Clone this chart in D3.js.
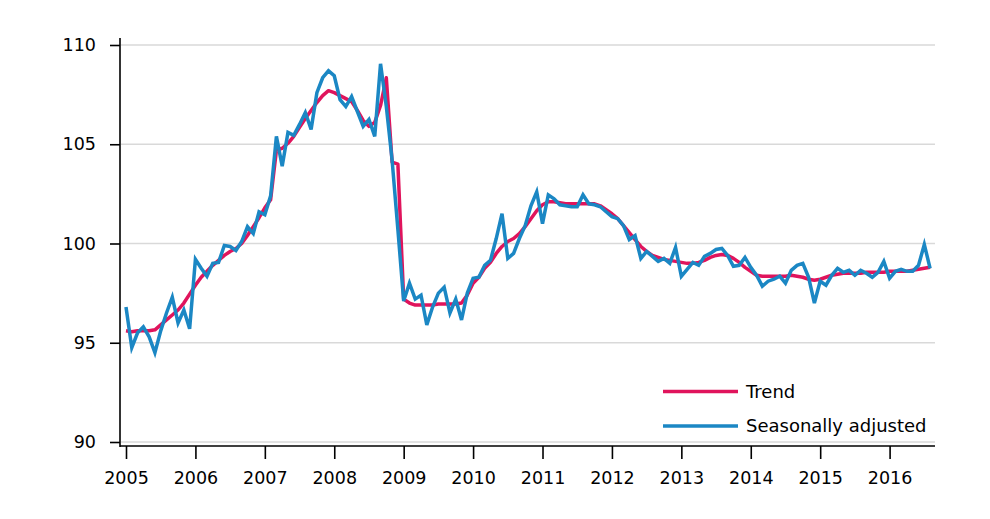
<!DOCTYPE html>
<html><head><meta charset="utf-8">
<script src="https://cdn.jsdelivr.net/npm/d3@7"></script>
<style>body{margin:0;background:#fff;}svg{display:block;}text{font-family:"DejaVu Sans",Verdana,sans-serif;}</style>
</head><body><svg id="c" width="990" height="519"></svg>
<script>
const startYear = 2005;
const yearTicks = [2005,2006,2007,2008,2009,2010,2011,2012,2013,2014,2015,2016];
const valueTicks = [90,95,100,105,110];
const seriesNames = ["Trend","Seasonally adjusted"];
const seasonallyAdjusted = [
96.8,94.75,95.5,95.8,95.3,94.5,95.6,96.5,97.3,96.0,96.65,95.7,
99.2,98.75,98.35,99.0,99.05,99.9,99.85,99.65,100.1,100.85,100.5,101.6,
101.45,102.4,105.4,103.9,105.6,105.45,106.0,106.6,105.75,107.6,108.35,108.7,
108.45,107.25,106.9,107.4,106.65,105.9,106.25,105.4,109.05,106.9,104.2,100.7,
97.1,98.0,97.2,97.4,95.9,96.8,97.5,97.8,96.5,97.2,96.15,97.5,
98.25,98.3,98.9,99.15,100.25,101.5,99.25,99.5,100.25,100.9,101.9,102.6,
101.0,102.45,102.25,101.95,101.9,101.85,101.85,102.45,102.0,101.95,101.85,101.6,
101.35,101.25,100.9,100.2,100.4,99.25,99.6,99.35,99.1,99.25,99.0,99.8,
98.35,98.7,99.05,98.9,99.35,99.5,99.7,99.75,99.4,98.85,98.9,99.3,
98.8,98.4,97.85,98.1,98.2,98.35,98.0,98.65,98.9,99.0,98.3,97.0,
98.1,97.9,98.4,98.75,98.55,98.65,98.4,98.65,98.5,98.3,98.55,99.1,
98.25,98.6,98.7,98.6,98.6,98.9,99.95,98.75
];
const trend = [
95.6,95.55,95.6,95.6,95.6,95.65,95.9,96.15,96.4,96.65,97.0,97.45,
97.9,98.3,98.6,98.9,99.15,99.4,99.6,99.75,100.0,100.4,100.85,101.3,
101.8,102.2,104.7,104.8,105.05,105.4,105.85,106.3,106.7,107.1,107.45,107.7,
107.6,107.45,107.3,107.15,106.7,106.2,105.9,106.1,106.95,108.35,104.1,104.0,
97.2,97.0,96.9,96.9,96.9,96.9,96.95,96.95,96.95,96.95,97.0,97.4,
98.0,98.3,98.75,99.05,99.5,99.85,100.1,100.25,100.5,100.85,101.25,101.65,
101.95,102.1,102.1,102.05,102.0,102.0,102.0,102.0,102.0,102.0,101.9,101.7,
101.5,101.25,100.9,100.55,100.2,99.85,99.6,99.4,99.3,99.2,99.15,99.1,
99.05,99.0,99.0,99.05,99.15,99.3,99.4,99.45,99.4,99.25,99.05,98.8,
98.6,98.4,98.35,98.35,98.35,98.35,98.35,98.4,98.35,98.3,98.2,98.15,
98.2,98.3,98.4,98.45,98.5,98.5,98.5,98.5,98.55,98.55,98.55,98.55,
98.6,98.6,98.6,98.6,98.65,98.7,98.75,98.8
];
const colors = ["#e0145c","#1b87c4"];

const svg = d3.select("#c");
const mLeft = 120, mRight = 935, mTop = 45, mBottom = 442, axisY = 446;
const x = d3.scaleLinear().domain([2005, 2016]).range([126, 889.6]);
const y = d3.scaleLinear().domain([90, 110]).range([mBottom, mTop]);
const monthX = i => x(startYear + i/12);

// gridlines
svg.append("g").selectAll("line").data(valueTicks).join("line")
  .attr("x1", mLeft+1).attr("x2", mRight)
  .attr("y1", d=>y(d)).attr("y2", d=>y(d))
  .attr("stroke", "#d9d9d9").attr("stroke-width", 1.5);

// y axis
const yAxis = d3.axisLeft(y).tickValues(valueTicks).tickSize(10).tickPadding(14).tickFormat(d3.format("d"));
const gy = svg.append("g").attr("transform", `translate(${mLeft},0)`).call(yAxis);
gy.select(".domain").remove();
svg.append("line").attr("x1", mLeft).attr("x2", mLeft).attr("y1", 38).attr("y2", axisY+1)
  .attr("stroke", "#000").attr("stroke-width", 1.6);
gy.selectAll(".tick line").attr("stroke", "#000").attr("stroke-width", 1.6);
gy.selectAll(".tick text").attr("font-size", 17.5).attr("fill", "#000");

// x axis
const xAxis = d3.axisBottom(x).tickValues(yearTicks).tickSize(13).tickPadding(13).tickFormat(d3.format("d"));
const gx = svg.append("g").attr("transform", `translate(0,${axisY})`).call(xAxis);
gx.select(".domain").remove();
svg.append("line").attr("x1", mLeft).attr("x2", mRight).attr("y1", axisY).attr("y2", axisY)
  .attr("stroke", "#000").attr("stroke-width", 1.6);
gx.selectAll(".tick line").attr("stroke", "#000").attr("stroke-width", 1.6);
gx.selectAll(".tick text").attr("font-size", 17.5).attr("fill", "#000");

const line = d3.line().x((d,i)=>monthX(i)).y(d=>y(d));
svg.append("path").datum(trend).attr("d", line).attr("fill","none")
  .attr("stroke", colors[0]).attr("stroke-width", 3.5).attr("stroke-linejoin","round");
svg.append("path").datum(seasonallyAdjusted).attr("d", line).attr("fill","none")
  .attr("stroke", colors[1]).attr("stroke-width", 3.5).attr("stroke-linejoin","miter");

// legend
const leg = svg.append("g");
seriesNames.forEach((n,i)=>{
  const ly = 391.5 + i*34.5;
  leg.append("line").attr("x1",663).attr("x2",738).attr("y1",ly).attr("y2",ly)
    .attr("stroke",colors[i]).attr("stroke-width",3.5);
  leg.append("text").attr("x",746).attr("y",ly).attr("dy","0.35em")
    .attr("font-size",18).attr("fill","#000").text(n);
});
</script></body></html>
